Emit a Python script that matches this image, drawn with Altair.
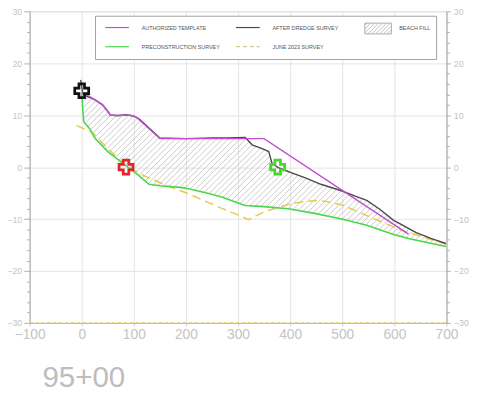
import altair as alt
import numpy as np
import pandas as pd

# ---------------- data ----------------
auth_x = [0, 20, 40, 55, 75, 95, 105, 150, 350, 627]
auth_y = [14.5, 13.3, 12.0, 10.0, 10.0, 10.0, 9.6, 5.5, 5.5, -12.9]

dredge_x = [-2, 2, 10, 25, 40, 50, 55, 70, 85, 100, 110, 150, 200, 250, 280, 314,
            327, 345, 359, 365, 377, 390, 403, 428, 459, 497, 525, 547, 572, 598,
            620, 642, 670, 699]
dredge_y = [16.8, 14.2, 13.6, 13.0, 12.0, 10.8, 10.0, 9.9, 10.1, 9.8, 9.3, 5.6, 5.5,
            5.6, 5.6, 5.7, 4.3, 3.6, 3.0, 0.8, -0.1, -0.6, -1.1, -2.0, -3.3, -4.5,
            -5.6, -6.4, -8.1, -10.2, -11.4, -12.6, -13.7, -14.7]

pre_x = [0, 2, 4, 10, 16, 25, 50, 82, 107, 129, 150, 189, 207, 240, 270, 300, 314,
         350, 396, 447, 503, 547, 597, 629, 699]
pre_y = [14.3, 11.0, 8.7, 8.0, 7.3, 5.6, 3.0, 0.5, -1.4, -3.3, -3.6, -3.9, -4.2,
         -5.0, -5.8, -6.9, -7.4, -7.6, -8.0, -8.9, -10.1, -11.2, -12.9, -13.8, -15.3]

june_x = [-10, 19, 50, 82, 120, 164, 207, 233, 270, 300, 320, 352, 396, 421, 453,
          470, 503, 553, 610, 650, 699]
june_y = [8.0, 6.8, 3.6, 0.5, -1.7, -3.6, -5.2, -6.4, -8.0, -9.2, -10.1, -8.5, -7.2,
          -6.7, -6.4, -6.6, -7.4, -9.6, -12.0, -13.3, -14.8]

bottom_x = [-100]
bottom_x2 = [700]
bottom_y = [-30]

marker_x = [0, 85, 376]
marker_y = [14.7, 0, 0]
marker_color = ["#111111", "#e3242b", "#46d62c"]

x_ticks = list(range(-100, 701, 100))
y_ticks = list(range(-30, 31, 2))

legend_labels = ["AUTHORIZED TEMPLATE", "AFTER DREDGE SURVEY", "BEACH FILL",
                 "PRECONSTRUCTION SURVEY", "JUNE 2023 SURVEY"]
title_text = "95+00"

# ---------------- styles ----------------
C_AUTH = "#c04fd0"
C_DREDGE = "#4a4a4a"
C_PRE = "#4cd64a"
C_JUNE = "#e6c94e"
C_HATCH = "#adadad"
FONT = "Liberation Sans"

W, H = 424, 317

xscale = alt.Scale(domain=[-100, 700], nice=False, zero=False)
yscale = alt.Scale(domain=[-30, 30], nice=False, zero=False)

major = "datum.value % 10 === 0"

x_axis = alt.Axis(values=x_ticks, title=None, grid=True, gridColor="#e3e3e3",
                  labelColor="#c4c4c4", labelFontSize=14, labelFont=FONT,
                  labelFlush=False, labelOverlap=False, labelPadding=2,
                  tickSize=3, tickColor="#cccccc", domainColor="#b0b0b0")
y_axis = alt.Axis(values=y_ticks, title=None, grid=True, gridColor="#e3e3e3",
                  gridOpacity={"condition": {"test": major, "value": 1}, "value": 0},
                  tickSize={"condition": {"test": major, "value": 6}, "value": 3},
                  labelExpr="datum.value % 10 === 0 ? datum.label : ''",
                  labelColor="#c4c4c4", labelFontSize=9, labelFont=FONT,
                  labelPadding=2, labelOverlap=False, labelFlush=False,
                  tickColor="#b0b0b0", domainColor="#a8a8a8")
y_axis_right = alt.Axis(values=y_ticks, title=None, grid=False, orient="right",
                        tickSize={"condition": {"test": major, "value": 4}, "value": 3},
                        labelExpr="datum.value % 10 === 0 ? datum.label : ''",
                        labelColor="#c4c4c4", labelFontSize=9, labelFont=FONT,
                        labelPadding=3, labelOverlap=False, labelFlush=False,
                        tickColor="#b0b0b0", domainColor="#a8a8a8")


def X(f="x"):
    return alt.X(f"{f}:Q", scale=xscale, axis=x_axis)


def Y(f="y", axis=y_axis):
    return alt.Y(f"{f}:Q", scale=yscale, axis=axis)


def line_chart(xs, ys, color, width, dash=None):
    df = pd.DataFrame({"x": xs, "y": ys, "o": range(len(xs))})
    kw = dict(color=color, strokeWidth=width, clip=True)
    if dash:
        kw["strokeDash"] = dash
    return alt.Chart(df).mark_line(**kw).encode(x=X(), y=Y(), order="o:Q")


# ---------------- hatch for beach fill (between after-dredge and preconstruction) ----
grid = np.linspace(0, 700, 7001)
up = np.interp(grid, dredge_x, dredge_y)
lo = np.interp(grid, pre_x, pre_y)
slope = 0.1  # 45 degrees on screen
segs = []
for c in np.arange(-86.0, 17.5, 1.13):
    ln = slope * grid + c
    f = up - ln
    g = lo - ln
    if f[0] < 0 or not (g <= 0).any():
        continue
    il = int(np.argmax(g <= 0))
    iu = int(np.argmax(f < 0)) - 1 if (f < 0).any() else len(grid) - 1
    if iu > il:
        xa, xb = grid[il], grid[iu]
        segs.append({"x": xa, "y": slope * xa + c, "x2": xb, "y2": slope * xb + c})
hatch_df = pd.DataFrame(segs)

hatch = alt.Chart(hatch_df).mark_rule(color=C_HATCH, strokeWidth=0.65).encode(
    x=X(), y=Y(), x2="x2:Q", y2="y2:Q")

bottom_df = pd.DataFrame({"x": bottom_x, "x2": bottom_x2, "y": bottom_y})

june = line_chart(june_x, june_y, C_JUNE, 1.5, [9, 5])
pre = line_chart(pre_x, pre_y, C_PRE, 1.6)
dredge = line_chart(dredge_x, dredge_y, C_DREDGE, 1.4)
auth = line_chart(auth_x, auth_y, C_AUTH, 1.4)

mk_df = pd.DataFrame({"x": marker_x, "y": marker_y, "c": marker_color})
markers = alt.Chart(mk_df).mark_point(shape="cross", size=200, filled=False,
                                      strokeWidth=2.8, opacity=1).encode(
    x=X(), y=Y(), color=alt.Color("c:N", scale=None))

# ---------------- legend (pixel layout) ----------------
one = pd.DataFrame({"a": [0]})
legend_layers = [
    alt.Chart(one).mark_rect(fill="white", stroke="#a0a0a0", strokeWidth=1).encode(
        x=alt.value(67), x2=alt.value(414), y=alt.value(5), y2=alt.value(49))
]
legend_items = [
    (legend_labels[0], C_AUTH, None, 77, 114, 16.5),
    (legend_labels[1], C_DREDGE, None, 210, 247, 16.5),
    (legend_labels[3], C_PRE, None, 77, 114, 36),
    (legend_labels[4], "#d8c890", [4, 3], 210, 247, 36),
]
for lab, col, dash, lx, tx, ly in legend_items:
    kw = dict(color=col, strokeWidth=1.2)
    if dash:
        kw["strokeDash"] = dash
    legend_layers.append(alt.Chart(one).mark_rule(**kw).encode(
        x=alt.value(lx), x2=alt.value(lx + 24), y=alt.value(ly)))
    legend_layers.append(alt.Chart(one).mark_text(
        align="left", baseline="middle", fontSize=5.5, font=FONT, color="#555555").encode(
        x=alt.value(tx), y=alt.value(ly), text=alt.value(lab)))
# hatched swatch for BEACH FILL
bx0, bx1, by0, by1 = 341, 368, 12, 23
legend_layers.append(alt.Chart(one).mark_rect(fill="white", stroke="#999999",
                                              strokeWidth=0.8).encode(
    x=alt.value(bx0), x2=alt.value(bx1), y=alt.value(by0), y2=alt.value(by1)))
hh = by1 - by0
for o in np.arange(-hh + 2, bx1 - bx0, 4):
    s0 = max(0.0, -o)
    s1 = min(float(hh), (bx1 - bx0) - o)
    if s1 <= s0:
        continue
    legend_layers.append(alt.Chart(one).mark_rule(color="#999999", strokeWidth=0.6).encode(
        x=alt.value(float(bx0 + o + s0)), y=alt.value(float(by1 - s0)),
        x2=alt.value(float(bx0 + o + s1)), y2=alt.value(float(by1 - s1))))
legend_layers.append(alt.Chart(one).mark_text(
    align="left", baseline="middle", fontSize=5.5, font=FONT, color="#555555").encode(
    x=alt.value(376), y=alt.value(16.5), text=alt.value(legend_labels[2])))

title = alt.Chart(one).mark_text(align="left", baseline="alphabetic", fontSize=30,
                                 font=FONT, color="#bdbdbd").encode(
    x=alt.value(13), y=alt.value(382), text=alt.value(title_text))

main = alt.layer(hatch, june, pre, dredge, auth, markers, *legend_layers, title)

right_axis = alt.Chart(bottom_df).mark_rule(color="#e0cf52", strokeWidth=1.5,
                                            strokeDash=[3, 3]).encode(
    x=X(), x2="x2:Q", y=Y(axis=y_axis_right))

chart = alt.layer(main, right_axis).resolve_scale(y="independent").properties(
    width=W, height=H,
    autosize=alt.AutoSizeParams(type="none"),
    padding={"left": 22, "top": 0, "right": 27, "bottom": 75},
    background="white",
).configure_view(stroke="#dcdcdc")

chart.save("out.html", embed_options={"renderer": "svg", "actions": False})
